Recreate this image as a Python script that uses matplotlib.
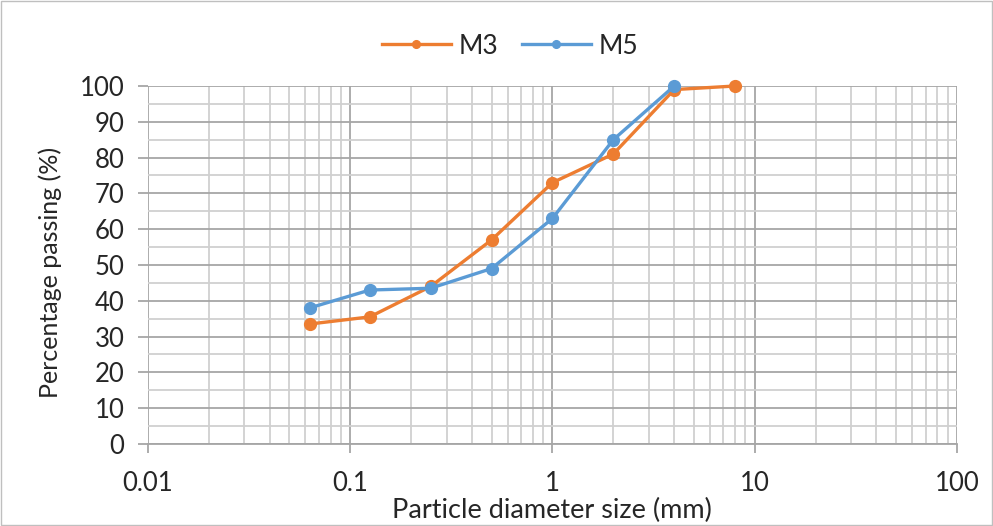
import matplotlib
matplotlib.use("Agg")
from matplotlib import pyplot as plt
from matplotlib.ticker import LogLocator, MultipleLocator, FixedLocator, FixedFormatter, NullFormatter

plt.rcParams["font.family"] = ["Lato", "DejaVu Sans"]

m3_size = [0.063, 0.125, 0.25, 0.5, 1, 2, 4, 8]
m3_pass = [33.5, 35.5, 44, 57, 73, 81, 99, 100]
m5_size = [0.063, 0.125, 0.25, 0.5, 1, 2, 4]
m5_pass = [38, 43, 43.5, 49, 63, 85, 100]

x_ticks = [0.01, 0.1, 1, 10, 100]
x_labels = ["0.01", "0.1", "1", "10", "100"]

MAJOR = "#a6a6a6"
MINOR = "#d0d0d0"

fig = plt.figure(figsize=(9.93, 5.26), dpi=100)
fig.patches.append(plt.Rectangle((0.001, 0.001), 0.998, 0.998, transform=fig.transFigure,
                                 fill=False, edgecolor="#bfbfbf", lw=1))
ax = fig.add_axes([0.149, 0.156, 0.8147, 0.6805])

ax.set_xscale("log")
ax.set_xlim(0.01, 100)
ax.set_ylim(0, 100)
ax.xaxis.set_major_locator(FixedLocator(x_ticks))
ax.xaxis.set_major_formatter(FixedFormatter(x_labels))
ax.xaxis.set_minor_locator(LogLocator(base=10, subs=range(2, 10)))
ax.xaxis.set_minor_formatter(NullFormatter())
ax.yaxis.set_major_locator(MultipleLocator(10))
ax.yaxis.set_minor_locator(MultipleLocator(5))

ax.grid(which="major", color=MAJOR, lw=1.3)
ax.grid(which="minor", color=MINOR, lw=1.3)
ax.set_axisbelow(True)
for s in ["top", "right", "left"]:
    ax.spines[s].set_visible(False)
ax.spines["bottom"].set_color(MAJOR)
ax.spines["bottom"].set_linewidth(1.3)

ax.tick_params(axis="x", which="major", length=6.5, width=1.3, color=MAJOR,
               labelsize=18.5, pad=13, labelcolor="#262626")
ax.tick_params(axis="y", which="major", length=7, width=1.3, color=MAJOR,
               labelsize=18.5, pad=10, labelcolor="#262626")
ax.tick_params(which="minor", length=0)

ax.plot(m3_size, m3_pass, "-o", color="#ED7D31", lw=2.4, ms=8.5, label="M3", clip_on=False)
ax.plot(m5_size, m5_pass, "-o", color="#5B9BD5", lw=2.4, ms=8.5, label="M5", clip_on=False)

fig.text(552 / 993, 1 - 510 / 526, "Particle diameter size (mm)", fontsize=19.5,
         ha="center", va="center", color="#262626")
fig.text(50 / 993, 1 - 272 / 526, "Percentage passing (%)", fontsize=18,
         rotation=90, ha="center", va="center", color="#262626")

fig.legend(*ax.get_legend_handles_labels(), loc="center",
           bbox_to_anchor=(510 / 993, 1 - 46 / 526), ncol=2, frameon=False,
           fontsize=19, handlelength=2.6, columnspacing=0.9, handletextpad=0.3,
           markerscale=0.65, labelcolor="#262626")

fig.savefig("out.png", dpi=100)
